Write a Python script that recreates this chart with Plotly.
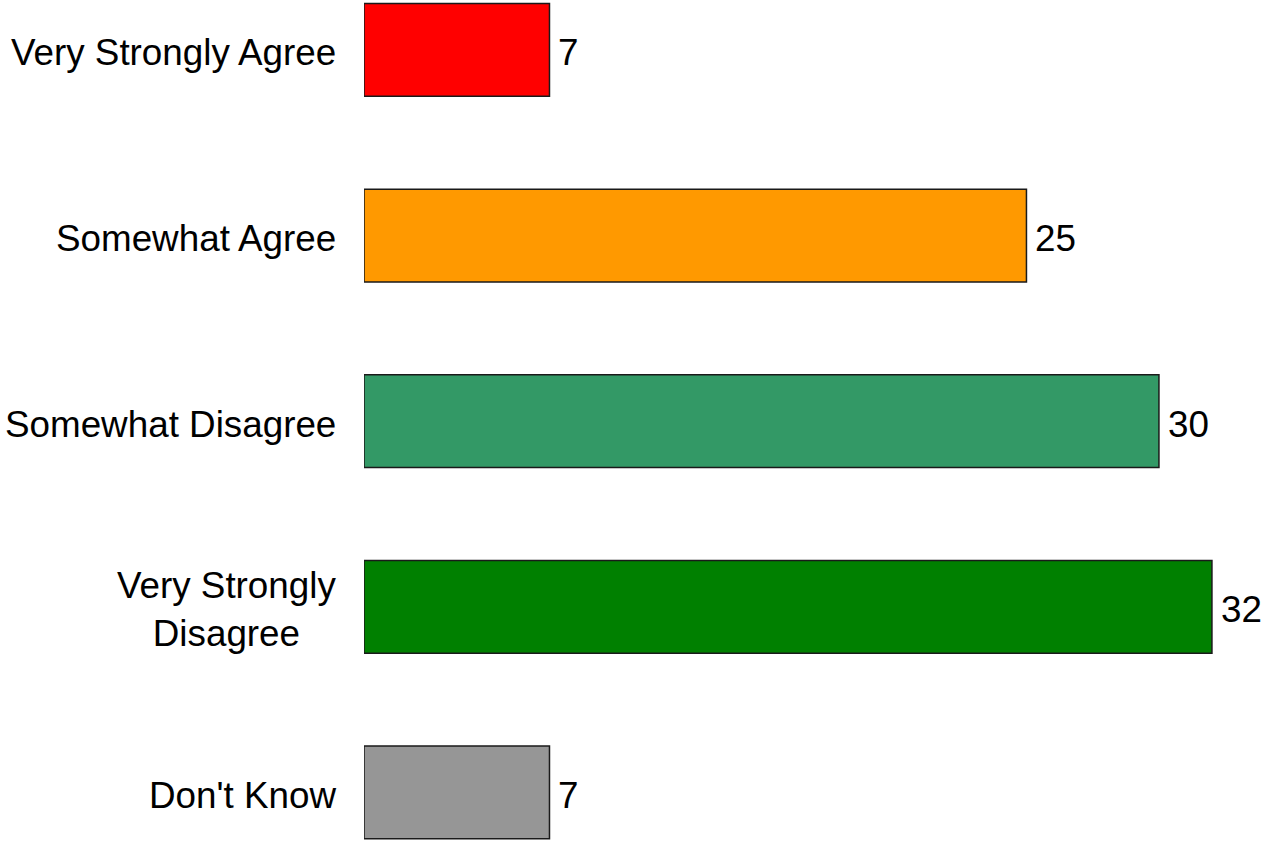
import plotly.graph_objects as go

# Datos
categories = ["Very Strongly Agree", "Somewhat Agree", "Somewhat Disagree",
              "Very Strongly<br>Disagree", "Don't Know"]
values = [7, 25, 30, 32, 7]
colors = ["#FF0000", "#FF9900", "#339966", "#008000", "#969696"]

FONT = "Liberation Sans, Arial, sans-serif"
SIZE = 36.8

fig = go.Figure(go.Bar(
    x=values,
    y=categories,
    orientation="h",
    width=0.5,
    marker=dict(color=colors, line=dict(color="#1a1a1a", width=1.5)),
    hoverinfo="x+y",
))

# Etiquetas de categoría (centradas en varias líneas)
for cat in categories:
    fig.add_annotation(
        x=0, xref="paper", y=cat, yref="y",
        text=cat, showarrow=False,
        xanchor="right", xshift=-26, yshift=-3, align="center",
        font=dict(family=FONT, size=SIZE, color="black"),
    )

# Valores al final de cada barra
for cat, v in zip(categories, values):
    fig.add_annotation(
        x=v, xref="x", y=cat, yref="y",
        text=str(v), showarrow=False,
        xanchor="left", xshift=7, yshift=-3,
        font=dict(family=FONT, size=SIZE, color="black"),
    )

fig.update_layout(
    width=1266, height=842,
    margin=dict(l=364, r=0, t=0, b=0),
    plot_bgcolor="white", paper_bgcolor="white",
    showlegend=False,
    xaxis=dict(range=[0, 34.04], visible=False),
    yaxis=dict(
        type="category",
        categoryorder="array", categoryarray=categories,
        range=[4.267, -0.269],
        showticklabels=False, showgrid=False, zeroline=False, ticks="",
    ),
)

fig.write_html("out.html", config={"displayModeBar": False},
               post_script="document.body.style.margin='0';")
